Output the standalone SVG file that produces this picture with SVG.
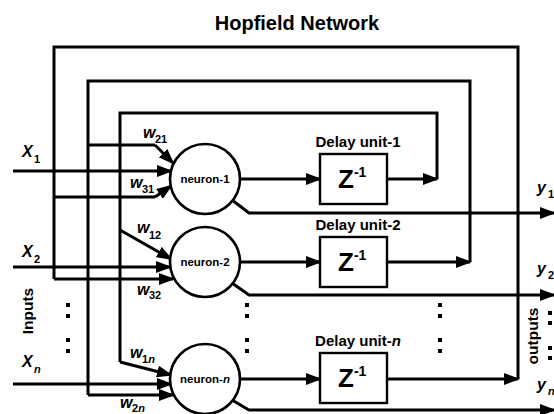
<svg xmlns="http://www.w3.org/2000/svg" width="554" height="414" viewBox="0 0 554 414">
  <style>
    text { font-family: "Liberation Sans", Arial, sans-serif; font-weight: bold; fill: #000; }
    .title { font-size: 20px; text-anchor: middle; }
    .dlabel { font-size: 15px; text-anchor: middle; }
    .nlabel { font-size: 11.5px; text-anchor: middle; }
    .var { font-size: 16px; font-style: italic; }
    .sub { font-size: 11px; }
    .z { font-size: 26px; }
    .sup { font-size: 14px; }
    .side { font-size: 15.5px; text-anchor: middle; }
    .wire { fill: none; stroke: #000; stroke-width: 3; stroke-linejoin: miter; }
    .arrow { fill: none; stroke: #000; stroke-width: 3; marker-end: url(#head); }
    .neuron circle { fill: #fff; stroke: #000; stroke-width: 2.6; }
    .delay rect { fill: #fff; stroke: #000; stroke-width: 2.4; }
    .dot { fill: #000; }
  </style>
  <defs>
    <marker id="head" markerUnits="userSpaceOnUse" markerWidth="16" markerHeight="12" refX="14" refY="6" orient="auto">
      <path d="M0,0 L16,6 L0,12 z" fill="#000"/>
    </marker>
  </defs>

  <rect width="554" height="414" fill="#fff"/>

  <text class="title" x="297" y="30">Hopfield Network</text>

  <g id="connectors">
    <!-- feedback loop from delay unit-1 -->
    <path class="arrow" d="M387,179 H437"/>
    <path class="wire" d="M437,179 V113 H120 V362"/>
    <path class="arrow" d="M120,362 L171,375"/>
    <path class="arrow" d="M120,230 L171,259"/>
    <!-- feedback loop from delay unit-2 -->
    <path class="arrow" d="M387,262 H470"/>
    <path class="wire" d="M470,262 V81 H88 V395"/>
    <path class="arrow" d="M88,395 H173"/>
    <path class="wire" d="M88,145 H155"/>
    <path class="arrow" d="M155,145 L173,163"/>
    <!-- feedback loop from delay unit-n -->
    <path class="arrow" d="M387,379 H518"/>
    <path class="wire" d="M518,379 V47 H54 V279"/>
    <path class="arrow" d="M54,279 H173"/>
    <path class="wire" d="M54,197 H155"/>
    <path class="arrow" d="M155,197 L171,186"/>
    <!-- external inputs -->
    <path class="arrow" d="M13,171 H171"/>
    <path class="arrow" d="M13,267 H170"/>
    <path class="arrow" d="M13,384 H171"/>
    <!-- neuron to delay unit -->
    <path class="arrow" d="M240,179 H320"/>
    <path class="arrow" d="M240,262 H320"/>
    <path class="arrow" d="M240,379 H320"/>
    <!-- outputs -->
    <path class="arrow" d="M232,200 L249,213 H554"/>
    <path class="arrow" d="M232,283 L249,295 H554"/>
    <path class="arrow" d="M232,400 L249,410 H554"/>
  </g>

  <g id="neuron-1" class="neuron">
    <circle cx="205" cy="179" r="35"/>
    <text class="nlabel" x="205" y="183">neuron-1</text>
  </g>
  <g id="neuron-2" class="neuron">
    <circle cx="205" cy="262" r="35"/>
    <text class="nlabel" x="205" y="266">neuron-2</text>
  </g>
  <g id="neuron-n" class="neuron">
    <circle cx="205" cy="379" r="35"/>
    <text class="nlabel" x="205" y="383">neuron-<tspan font-style="italic">n</tspan></text>
  </g>

  <g id="delay-1" class="delay">
    <text class="dlabel" x="358" y="147">Delay unit-1</text>
    <rect x="320" y="154" width="67" height="50"/>
    <text x="338" y="188"><tspan class="z">Z</tspan><tspan class="sup" dy="-11">-1</tspan></text>
  </g>
  <g id="delay-2" class="delay">
    <text class="dlabel" x="358" y="230">Delay unit-2</text>
    <rect x="320" y="237" width="67" height="50"/>
    <text x="338" y="271"><tspan class="z">Z</tspan><tspan class="sup" dy="-11">-1</tspan></text>
  </g>
  <g id="delay-n" class="delay">
    <text class="dlabel" x="358" y="346">Delay unit-<tspan font-style="italic">n</tspan></text>
    <rect x="320" y="353" width="67" height="50"/>
    <text x="338" y="387"><tspan class="z">Z</tspan><tspan class="sup" dy="-11">-1</tspan></text>
  </g>

  <g id="weights">
    <text class="var" x="143" y="138">w</text><text class="sub" x="155" y="143">21</text>
    <text class="var" x="130" y="188">w</text><text class="sub" x="142" y="193">31</text>
    <text class="var" x="137" y="233">w</text><text class="sub" x="149" y="239">12</text>
    <text class="var" x="137" y="295">w</text><text class="sub" x="149" y="299">32</text>
    <text class="var" x="130" y="358">w</text><text class="sub" x="142" y="363">1<tspan font-style="italic">n</tspan></text>
    <text class="var" x="120" y="408">w</text><text class="sub" x="132" y="412">2<tspan font-style="italic">n</tspan></text>
  </g>

  <g id="inputs">
    <text class="var" x="22" y="157">X</text><text class="sub" x="34" y="163">1</text>
    <text class="var" x="22" y="257">X</text><text class="sub" x="34" y="263">2</text>
    <text class="var" x="22" y="367">X</text><text class="sub" x="34" y="373" font-style="italic">n</text>
    <text class="side" transform="translate(33,311) rotate(-90)">Inputs</text>
  </g>

  <g id="outputs">
    <text class="var" x="537" y="193">y</text><text class="sub" x="548" y="198">1</text>
    <text class="var" x="537" y="274">y</text><text class="sub" x="548" y="279">2</text>
    <text class="var" x="537" y="390">y</text><text class="sub" x="548" y="395" font-style="italic">n</text>
    <text class="side" transform="translate(538,336) rotate(-90)">outputs</text>
  </g>

  <g id="ellipsis">
    <rect class="dot" x="66" y="303" width="4" height="4"/>
    <rect class="dot" x="66" y="314" width="4" height="4"/>
    <rect class="dot" x="66" y="338" width="4" height="4"/>
    <rect class="dot" x="66" y="349" width="4" height="4"/>
    <rect class="dot" x="245" y="303" width="4" height="4"/>
    <rect class="dot" x="245" y="314" width="4" height="4"/>
    <rect class="dot" x="245" y="338" width="4" height="4"/>
    <rect class="dot" x="245" y="349" width="4" height="4"/>
    <rect class="dot" x="438" y="303" width="4" height="4"/>
    <rect class="dot" x="438" y="314" width="4" height="4"/>
    <rect class="dot" x="438" y="338" width="4" height="4"/>
    <rect class="dot" x="438" y="349" width="4" height="4"/>
    <rect class="dot" x="548" y="311" width="4" height="4"/>
    <rect class="dot" x="548" y="321" width="4" height="4"/>
    <rect class="dot" x="548" y="346" width="4" height="4"/>
    <rect class="dot" x="548" y="356" width="4" height="4"/>
  </g>
</svg>
